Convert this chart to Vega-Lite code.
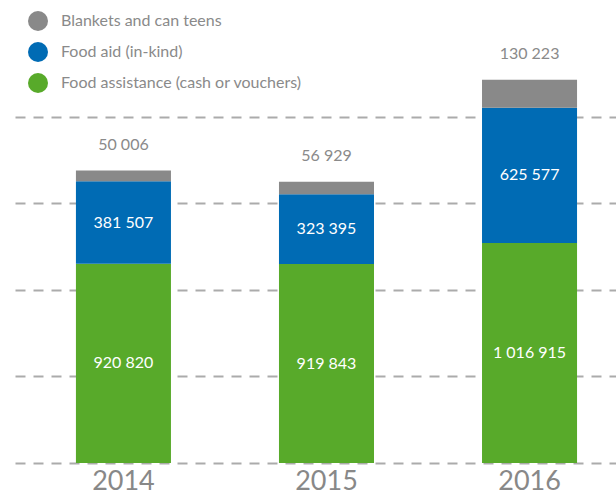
{
  "$schema": "https://vega.github.io/schema/vega-lite/v6.json",
  "width": 601,
  "height": 463,
  "autosize": {"type": "none"},
  "padding": {"left": 15, "top": 0, "right": 0, "bottom": 34},
  "config": {
    "font": "Lato",
    "view": {"stroke": null},
    "locale": {"number": {"decimal": ".", "thousands": " ", "grouping": [3], "currency": ["", ""]}},
    "axisY": {"labels": false, "ticks": false, "domain": false, "grid": true, "gridDash": [10, 8], "gridColor": "#ababab", "gridWidth": 2, "title": null}
  },
  "data": {
    "values": [
      {"year": "2014", "category": "Food assistance (cash or vouchers)", "value": 920820},
      {"year": "2014", "category": "Food aid (in-kind)", "value": 381507},
      {"year": "2014", "category": "Blankets and can teens", "value": 50006},
      {"year": "2015", "category": "Food assistance (cash or vouchers)", "value": 919843},
      {"year": "2015", "category": "Food aid (in-kind)", "value": 323395},
      {"year": "2015", "category": "Blankets and can teens", "value": 56929},
      {"year": "2016", "category": "Food assistance (cash or vouchers)", "value": 1016915},
      {"year": "2016", "category": "Food aid (in-kind)", "value": 625577},
      {"year": "2016", "category": "Blankets and can teens", "value": 130223}
    ]
  },
  "encoding": {
    "x": {
      "field": "year",
      "type": "ordinal",
      "scale": {"paddingInner": 0.532, "paddingOuter": 0.246, "align": 0.61},
      "axis": {"title": null, "labelAngle": 0, "ticks": false, "domain": false, "labelFontSize": 27, "labelColor": "#888888", "labelPadding": 5, "labelFont": "Lato"}
    }
  },
  "layer": [
    {
      "mark": {"type": "bar"},
      "encoding": {
        "y": {
          "field": "value",
          "type": "quantitative",
          "stack": "zero",
          "scale": {"domain": [0, 2141000], "nice": false},
          "axis": {"values": [0, 400000, 800000, 1200000, 1600000], "title": null}
        },
        "color": {
          "field": "category",
          "type": "nominal",
          "scale": {
            "domain": ["Blankets and can teens", "Food aid (in-kind)", "Food assistance (cash or vouchers)"],
            "range": ["#898989", "#006bb4", "#58aa2a"]
          },
          "legend": {
            "title": null,
            "orient": "none",
            "legendX": 13,
            "legendY": 11,
            "padding": 0,
            "symbolType": "circle",
            "symbolSize": 400,
            "symbolStrokeWidth": 0,
            "labelFontSize": 16,
            "labelColor": "#8a8a8a",
            "labelFont": "Lato",
            "labelOffset": 13,
            "rowPadding": 11,
            "labelLimit": 400
          }
        },
        "order": {"field": "category", "sort": "descending"}
      }
    },
    {
      "mark": {"type": "text", "fontSize": 16, "color": "white", "baseline": "middle"},
      "encoding": {
        "y": {
          "field": "value",
          "type": "quantitative",
          "stack": "zero",
          "bandPosition": 0.5,
          "axis": {"values": [0, 400000, 800000, 1200000, 1600000], "title": null}
        },
        "detail": {"field": "category"},
        "order": {"field": "category", "sort": "descending"},
        "text": {"field": "value", "type": "quantitative", "format": ",d"},
        "opacity": {"condition": {"test": "datum.category === 'Blankets and can teens'", "value": 0}, "value": 1}
      }
    },
    {
      "mark": {"type": "text", "fontSize": 16, "color": "#8a8a8a", "baseline": "bottom", "dy": -18},
      "encoding": {
        "y": {
          "field": "value",
          "type": "quantitative",
          "stack": "zero",
          "axis": {"values": [0, 400000, 800000, 1200000, 1600000], "title": null}
        },
        "detail": {"field": "category"},
        "order": {"field": "category", "sort": "descending"},
        "text": {"field": "value", "type": "quantitative", "format": ",d"},
        "opacity": {"condition": {"test": "datum.category === 'Blankets and can teens'", "value": 1}, "value": 0}
      }
    }
  ]
}
